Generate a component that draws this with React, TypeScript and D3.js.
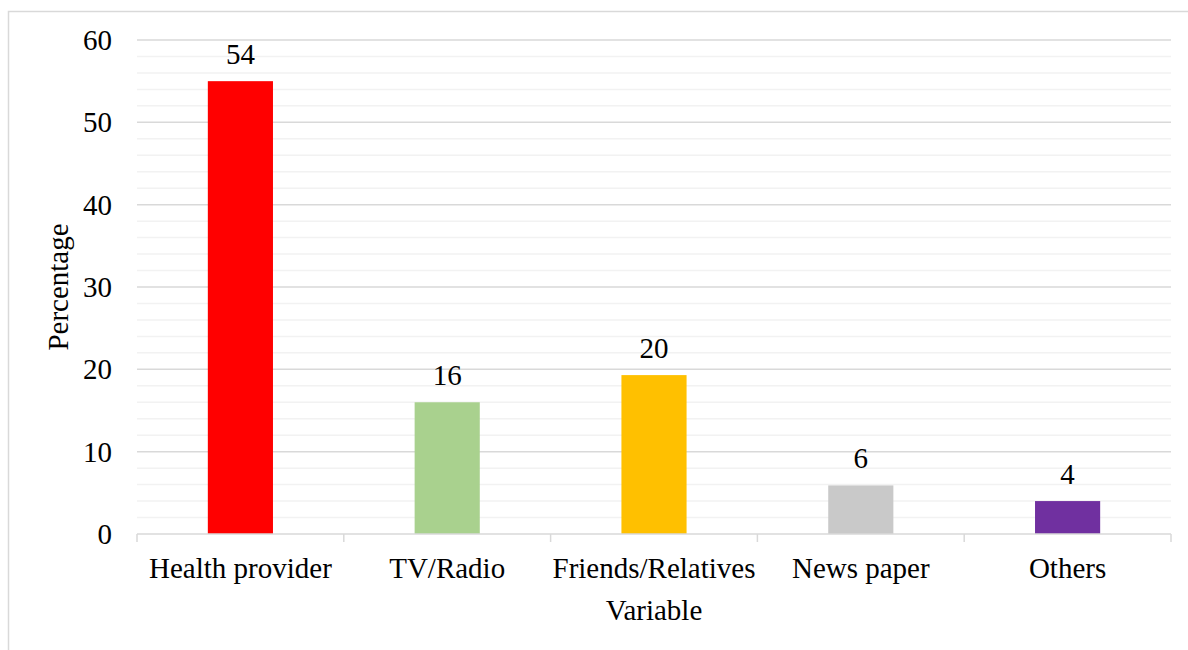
import React from "react";
import * as d3 from "d3";

const categories = ["Health provider", "TV/Radio", "Friends/Relatives", "News paper", "Others"];
const values = [55, 16, 19.3, 5.9, 4];
const dataLabels = ["54", "16", "20", "6", "4"];
const colors = ["#FF0000", "#A9D18E", "#FFC000", "#C9C9C9", "#7030A0"];
const majorTicks = [0, 10, 20, 30, 40, 50, 60];
const minorTicks = d3.range(0, 61, 2).filter((v) => v % 10 !== 0);

const W = 1188;
const H = 650;
const left = 137;
const right = 1171;
const top = 40;
const bottom = 534;
const FS = 29;
const FONT = "'Liberation Serif', 'Times New Roman', serif";

export default function App() {
  const x = d3.scaleBand<string>().domain(categories).range([left, right]).paddingInner(0).paddingOuter(0);
  const y = d3.scaleLinear().domain([0, 60]).range([bottom, top]);
  const bw = x.bandwidth() * 0.315;
  const boundaries = categories.map((c) => x(c) as number).concat([right]);

  return (
    <svg width={W} height={H} style={{ position: "absolute", left: 0, top: 0, background: "#fff" }}>
      <rect x={8.5} y={11.5} width={W + 10} height={H + 10} fill="#fff" stroke="#D9D9D9" strokeWidth={1.5} />
      {minorTicks.map((t) => (
        <line key={"mi" + t} x1={left} x2={right} y1={y(t)} y2={y(t)} stroke="#F2F2F2" strokeWidth={1.5} />
      ))}
      {majorTicks.filter((t) => t !== 0).map((t) => (
        <line key={"ma" + t} x1={left} x2={right} y1={y(t)} y2={y(t)} stroke="#D9D9D9" strokeWidth={1.5} />
      ))}
      {categories.map((c, i) => {
        const cx = (x(c) as number) + x.bandwidth() / 2;
        return (
          <g key={c}>
            <rect x={cx - bw / 2} y={y(values[i])} width={bw} height={bottom - y(values[i])} fill={colors[i]} />
            <text x={cx} y={y(values[i]) - 17} textAnchor="middle" fontFamily={FONT} fontSize={FS} fill="#000">
              {dataLabels[i]}
            </text>
            <text x={cx} y={578} textAnchor="middle" fontFamily={FONT} fontSize={FS} fill="#000">
              {c}
            </text>
          </g>
        );
      })}
      <line x1={left} x2={right} y1={bottom} y2={bottom} stroke="#D9D9D9" strokeWidth={1.5} />
      {boundaries.map((b, i) => (
        <line key={"tk" + i} x1={b} x2={b} y1={bottom} y2={bottom + 8} stroke="#D9D9D9" strokeWidth={1.5} />
      ))}
      {majorTicks.map((t) => (
        <text key={"yl" + t} x={112} y={y(t) + 10} textAnchor="end" fontFamily={FONT} fontSize={FS} fill="#000">
          {t}
        </text>
      ))}
      <text transform={`translate(68, ${(top + bottom) / 2}) rotate(-90)`} textAnchor="middle" fontFamily={FONT} fontSize={FS} fill="#000">
        Percentage
      </text>
      <text x={654} y={620} textAnchor="middle" fontFamily={FONT} fontSize={FS} fill="#000">
        Variable
      </text>
    </svg>
  );
}
